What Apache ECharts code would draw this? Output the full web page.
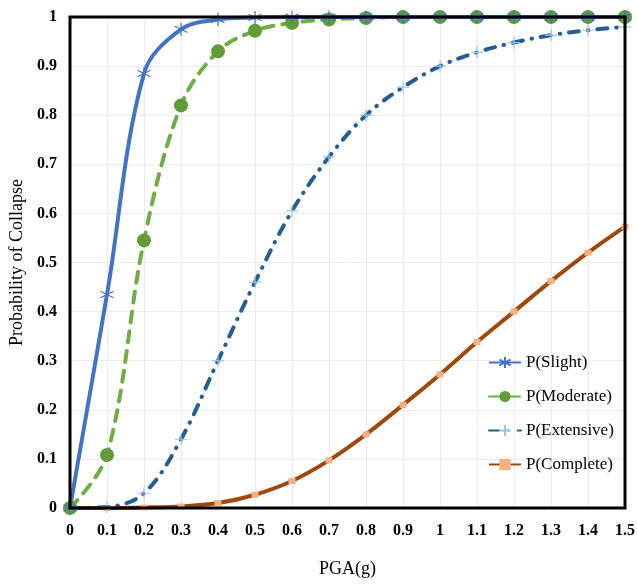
<!DOCTYPE html>
<html><head><meta charset="utf-8">
<script src="https://cdn.jsdelivr.net/npm/echarts@6/dist/echarts.min.js"></script>
<style>html,body{margin:0;padding:0;background:#fff}#c{width:637px;height:584px}</style>
</head><body><div id="c"></div>
<script>
const pga = [0,0.1,0.2,0.3,0.4,0.5,0.6,0.7,0.8,0.9,1.0,1.1,1.2,1.3,1.4,1.5];
const pSlight = [0,0.435,0.885,0.975,0.995,0.999,1,1,1,1,1,1,1,1,1,1];
const pModerate = [0,0.108,0.545,0.82,0.93,0.972,0.988,0.995,0.998,1,1,1,1,1,1,1];
const pExtensive = [0,0.002,0.03,0.14,0.30,0.46,0.605,0.715,0.80,0.857,0.90,0.928,0.948,0.963,0.973,0.98];
const pComplete = [0,0,0.001,0.003,0.01,0.027,0.055,0.097,0.15,0.21,0.272,0.338,0.40,0.462,0.52,0.573];
const seriesNames = ['P(Slight)','P(Moderate)','P(Extensive)','P(Complete)'];

const pair = arr => pga.map((x,i)=>[x,arr[i]]);
const serif = 'Liberation Serif';
const chart = echarts.init(document.getElementById('c'));
const fmt = v => String(+v.toFixed(1));
chart.setOption({
  animation:false,
  grid:{left:70,right:12,top:17,bottom:76,containLabel:false,outerBoundsMode:'none',
    show:true,borderColor:'#000',borderWidth:3,z:10},
  xAxis:{type:'value',min:0,max:1.5,interval:0.1,
    name:'PGA(g)',nameLocation:'middle',nameGap:52,
    nameTextStyle:{fontFamily:serif,fontSize:18,color:'#000'},
    axisLine:{show:false},axisTick:{show:false},
    axisLabel:{formatter:fmt,fontFamily:serif,fontWeight:'bold',fontSize:16,color:'#000',margin:15},
    splitLine:{lineStyle:{color:'#ececec',width:1}}},
  yAxis:{type:'value',min:0,max:1,interval:0.1,
    name:'Probability of Collapse',nameLocation:'middle',nameGap:43,
    nameTextStyle:{fontFamily:serif,fontSize:18,color:'#000'},
    axisLine:{show:false},axisTick:{show:false},
    axisLabel:{formatter:fmt,fontFamily:serif,fontWeight:'bold',fontSize:16,color:'#000',margin:13},
    splitLine:{lineStyle:{color:'#ececec',width:1}}},
  legend:{orient:'vertical',left:483,top:349,itemGap:17,itemWidth:32,itemHeight:14,
    data:seriesNames,
    textStyle:{fontFamily:serif,fontSize:17,color:'#000'}},
  series:[
    {name:seriesNames[0],type:'line',data:pair(pSlight),smooth:0.35,
     lineStyle:{color:'#4472C4',width:4},
     symbol:'path://M0,-10L0,10M-8.7,-5L8.7,5M-8.7,5L8.7,-5',symbolSize:13,
     itemStyle:{color:'none',borderColor:'#4472C4',borderWidth:1.2},z:4},
    {name:seriesNames[1],type:'line',data:pair(pModerate),smooth:0.35,
     lineStyle:{color:'#70AD47',width:4,type:[11,9],cap:'round'},
     symbol:'circle',symbolSize:14,
     itemStyle:{color:'#629B3A',borderWidth:0},z:3},
    {name:seriesNames[2],type:'line',data:pair(pExtensive),smooth:0.35,
     lineStyle:{color:'#255E91',width:4,type:[10,9,0.5,9],cap:'round'},
     symbol:'path://M0,-10L0,10M-10,0L10,0',symbolSize:12,
     itemStyle:{color:'none',borderColor:'#9DC3E6',borderWidth:1.2},z:2},
    {name:seriesNames[3],type:'line',data:pair(pComplete),smooth:0.35,
     lineStyle:{color:'#9E480E',width:4},
     symbol:'rect',symbolSize:[7,6],
     itemStyle:{color:'#F4B183',borderWidth:0},z:1}
  ]
});
</script></body></html>
